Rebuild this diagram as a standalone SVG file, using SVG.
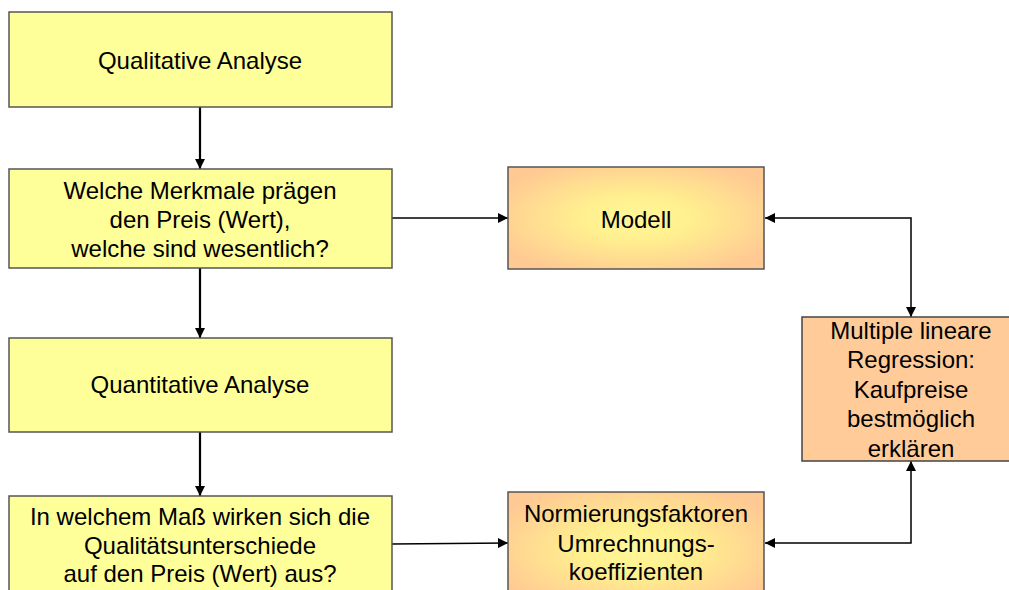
<svg xmlns="http://www.w3.org/2000/svg" width="1009" height="590" viewBox="0 0 1009 590">
<style>
.y{fill:#FFFF99;stroke:#555;stroke-width:1.5}
.o{fill:url(#og);stroke:#555;stroke-width:1.5}
.s{fill:#FFCC99;stroke:#444;stroke-width:1.5}
text{font-family:"Liberation Sans",Arial,sans-serif;font-size:24px;fill:#000;text-anchor:middle}
.c{fill:none;stroke:#000;stroke-width:1.5}
.c2{fill:none;stroke:#000;stroke-width:2.2}
</style>
<defs>
<radialGradient id="og" cx="0.5" cy="0.5" r="0.6">
<stop offset="0" stop-color="#FFF799"/>
<stop offset="0.35" stop-color="#FFF08F"/>
<stop offset="1" stop-color="#FFC993"/>
</radialGradient>
<marker id="a" viewBox="0 0 10 10" refX="10" refY="5" markerWidth="10" markerHeight="10" markerUnits="userSpaceOnUse" orient="auto-start-reverse">
<path d="M0,0 L10,5 L0,10 Z" fill="#000"/>
</marker>
</defs>
<g id="connectors">
<line class="c2" x1="200" y1="107" x2="200" y2="169" marker-end="url(#a)"/>
<line class="c2" x1="200" y1="268" x2="200" y2="338" marker-end="url(#a)"/>
<line class="c2" x1="200" y1="432" x2="200" y2="496" marker-end="url(#a)"/>
<line class="c" x1="392" y1="218" x2="508" y2="218" marker-end="url(#a)"/>
<line class="c" x1="392" y1="544" x2="508" y2="543" marker-end="url(#a)"/>
<polyline class="c" points="765,218 911,218 911,317" marker-start="url(#a)" marker-end="url(#a)"/>
<polyline class="c" points="765,543 911,543 911,461" marker-start="url(#a)" marker-end="url(#a)"/>
</g>
<g id="qualitative">
<rect class="y" x="9" y="12" width="383" height="95"/>
<text x="200" y="69">Qualitative Analyse</text>
</g>
<g id="merkmale">
<rect class="y" x="9" y="169" width="383" height="99"/>
<text x="200" y="199">Welche Merkmale prägen</text>
<text x="200" y="228">den Preis (Wert),</text>
<text x="200" y="257">welche sind wesentlich?</text>
</g>
<g id="quantitative">
<rect class="y" x="9" y="338" width="383" height="94"/>
<text x="200" y="393">Quantitative Analyse</text>
</g>
<g id="mass">
<rect class="y" x="9" y="496" width="383" height="110"/>
<text x="200" y="525">In welchem Maß wirken sich die</text>
<text x="200" y="554">Qualitätsunterschiede</text>
<text x="200" y="582">auf den Preis (Wert) aus?</text>
</g>
<g id="modell">
<rect class="o" x="508" y="167" width="256" height="102"/>
<text x="636" y="228">Modell</text>
</g>
<g id="normierung">
<rect class="o" x="508" y="492" width="256" height="115"/>
<text x="636" y="522">Normierungsfaktoren</text>
<text x="636" y="552">Umrechnungs-</text>
<text x="636" y="580">koeffizienten</text>
</g>
<g id="regression">
<rect class="s" x="802" y="317" width="218" height="144"/>
<text x="911" y="339">Multiple lineare</text>
<text x="911" y="368">Regression:</text>
<text x="911" y="398">Kaufpreise</text>
<text x="911" y="427">bestmöglich</text>
<text x="911" y="457">erklären</text>
</g>
</svg>
